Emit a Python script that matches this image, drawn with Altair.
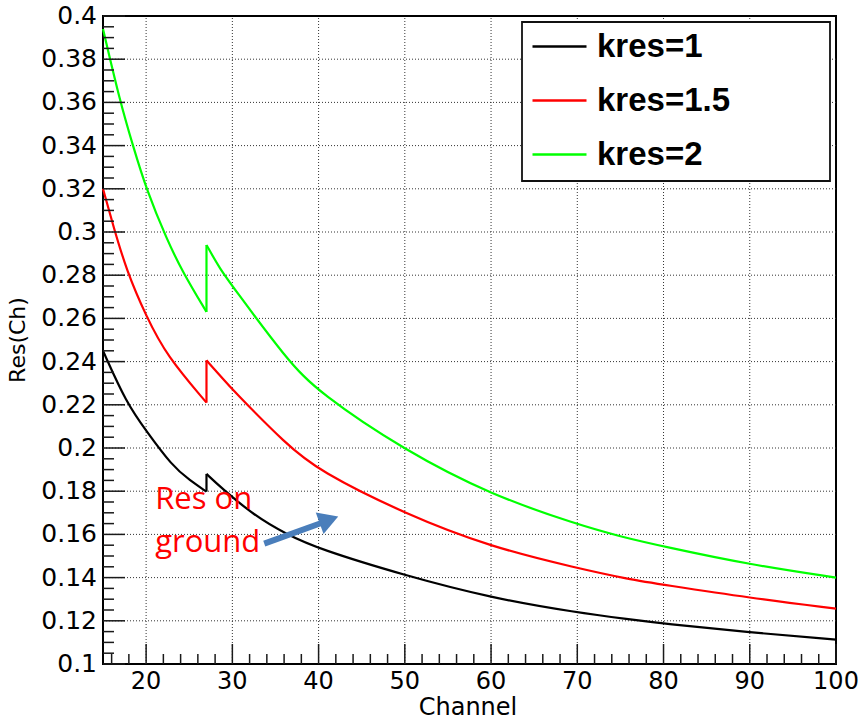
import altair as alt
import pandas as pd

# Resolution vs channel for three kres settings; each curve has a step at channel 27
series_names = ["kres=1", "kres=1.5", "kres=2"]
series_colors = ["#000000", "#ff0000", "#00ff00"]

k1_pre_ch = [15, 17.7, 20, 23, 25.1, 27]
k1_pre_res = [0.245, 0.221, 0.208, 0.1918, 0.1849, 0.1798]
k1_post_ch = [27, 28.6, 32.6, 36.3, 40, 50, 60, 70, 76, 80, 90, 100]
k1_post_res = [0.188, 0.182, 0.1685, 0.160, 0.1533, 0.141, 0.1306, 0.1238, 0.1207, 0.1187, 0.1146, 0.1113]

k15_pre_ch = [15, 16.2, 17.7, 20, 22.4, 27]
k15_pre_res = [0.320, 0.3027, 0.2825, 0.261, 0.2426, 0.221]
k15_post_ch = [27, 28.6, 30, 36.3, 40, 50, 60, 70, 76, 80, 90, 100]
k15_post_res = [0.2406, 0.2334, 0.227, 0.2015, 0.1895, 0.1695, 0.1541, 0.1444, 0.1392, 0.1367, 0.1306, 0.1256]

k2_pre_ch = [15, 17, 18.5, 20, 22.4, 24.3, 27]
k2_pre_res = [0.394, 0.360, 0.3396, 0.320, 0.2965, 0.281, 0.263]
k2_post_ch = [27, 28.6, 30, 36.3, 40, 50, 60, 70, 75, 80, 90, 100]
k2_post_res = [0.294, 0.2827, 0.275, 0.241, 0.2257, 0.1988, 0.1783, 0.1646, 0.159, 0.1544, 0.146, 0.140]

# Axis ranges, tick positions and titles (ticks point into the frame)
X_MIN, X_MAX = 15, 100
Y_MIN, Y_MAX = 0.1, 0.4
y_major = [round(0.10 + 0.02 * i, 3) for i in range(16)]
y_minor = [round(0.10 + 0.005 * i, 4) for i in range(61) if i % 4 != 0]
x_major = [20, 30, 40, 50, 60, 70, 80, 90, 100]
x_minor = [v for v in range(16, 101, 2) if v % 10 != 0]
x_title = "Channel"
y_title = "Res(Ch)"

# Annotation
note_lines = ["Res on", "ground"]
note_ch = [21.05, 21.05]
note_res = [0.1718, 0.1520]
arrow_ch = [33.7, 40.4]
arrow_res = [0.1557, 0.1654]
arrow_head_ch = [41.2]
arrow_head_res = [0.1667]

W, H = 733, 648
XS = alt.Scale(domain=[X_MIN, X_MAX], nice=False, zero=False)
YS = alt.Scale(domain=[Y_MIN, Y_MAX], nice=False, zero=False)
CH_PER_PX = (X_MAX - X_MIN) / W
RES_PER_PX = (Y_MAX - Y_MIN) / H
FONT = "DejaVu Sans"


def segments(name, pre_ch, pre_res, post_ch, post_res):
    rows = []
    for c, r in zip(pre_ch, pre_res):
        rows.append((name, "pre", c, r))
    rows.append((name, "jump", pre_ch[-1], pre_res[-1]))
    rows.append((name, "jump", post_ch[0], post_res[0]))
    for c, r in zip(post_ch, post_res):
        rows.append((name, "post", c, r))
    return rows


rows = (segments("kres=1", k1_pre_ch, k1_pre_res, k1_post_ch, k1_post_res)
        + segments("kres=1.5", k15_pre_ch, k15_pre_res, k15_post_ch, k15_post_res)
        + segments("kres=2", k2_pre_ch, k2_pre_res, k2_post_ch, k2_post_res))
df = pd.DataFrame(rows, columns=["series", "seg", "ch", "res"])
df["idx"] = range(len(df))

curves = alt.Chart(df).mark_line(strokeWidth=2.2, interpolate="basis").encode(
    x=alt.X("ch:Q", scale=XS, axis=None),
    y=alt.Y("res:Q", scale=YS, axis=None),
    color=alt.Color("series:N", scale=alt.Scale(domain=series_names, range=series_colors),
                    legend=alt.Legend(
                        orient="none", legendX=428, legendY=2, title=None,
                        symbolType="stroke", symbolSize=2916, symbolStrokeWidth=2.5,
                        labelFont="Liberation Sans", labelFontWeight="bold", labelFontSize=33,
                        labelColor="black", labelOffset=9, rowPadding=8, padding=0,
                        labelLimit=300)),
    detail="seg:N",
    order="idx:Q",
)

# Dotted grid at the major tick positions
grid_rows = []
for v in y_major[1:-1]:
    grid_rows.append({"gx": X_MIN, "gx2": X_MAX, "gy": v, "gy2": v})
for v in x_major[:-1]:
    grid_rows.append({"gx": v, "gx2": v, "gy": Y_MIN, "gy2": Y_MAX})
grid = alt.Chart(pd.DataFrame(grid_rows)).mark_rule(
    color="#333", strokeWidth=1, strokeDash=[1, 2]
).encode(x=alt.X("gx:Q", scale=XS, axis=None), y=alt.Y("gy:Q", scale=YS, axis=None),
         x2="gx2:Q", y2="gy2:Q")

# Inward tick segments: start on the frame edge, run a fixed pixel length into the plot
tick_rows = []
for v in y_major:
    tick_rows.append({"tx": X_MIN, "tx2": X_MIN + 22 * CH_PER_PX, "ty": v, "ty2": v})
for v in y_minor:
    tick_rows.append({"tx": X_MIN, "tx2": X_MIN + 11 * CH_PER_PX, "ty": v, "ty2": v})
for v in x_major:
    tick_rows.append({"tx": v, "tx2": v, "ty": Y_MIN, "ty2": Y_MIN + 20 * RES_PER_PX})
for v in x_minor:
    tick_rows.append({"tx": v, "tx2": v, "ty": Y_MIN, "ty2": Y_MIN + 10 * RES_PER_PX})
ticks = alt.Chart(pd.DataFrame(tick_rows)).mark_rule(
    color="#1a1a1a", strokeWidth=1.5, strokeDash=[100, 0], strokeCap="butt"
).encode(x=alt.X("tx:Q", scale=XS, axis=None), y=alt.Y("ty:Q", scale=YS, axis=None),
         x2="tx2:Q", y2="ty2:Q")

# Tick labels
ylab = alt.Chart(pd.DataFrame({"v": y_major, "x0": [X_MIN] * len(y_major)})).mark_text(
    align="right", baseline="middle", dx=-6, font=FONT, fontSize=25, color="black"
).encode(x=alt.X("x0:Q", scale=XS, axis=None), y=alt.Y("v:Q", scale=YS, axis=None),
         text=alt.Text("v:Q", format=".2~f"))
xlab = alt.Chart(pd.DataFrame({"v": x_major, "y0": [Y_MIN] * len(x_major)})).mark_text(
    align="center", baseline="top", dy=6, font=FONT, fontSize=24, color="black"
).encode(x=alt.X("v:Q", scale=XS, axis=None), y=alt.Y("y0:Q", scale=YS, axis=None),
         text=alt.Text("v:Q", format="d"))

# Axis titles
xtitle = alt.Chart(pd.DataFrame({"label": [x_title]})).mark_text(
    align="center", baseline="middle", font=FONT, fontSize=24, color="black"
).encode(x=alt.value(365), y=alt.value(H + 44), text="label:N")
ytitle = alt.Chart(pd.DataFrame({"label": [y_title]})).mark_text(
    align="center", baseline="middle", angle=270, font=FONT, fontSize=22, color="black"
).encode(x=alt.value(-85), y=alt.value(324), text="label:N")

note_df = pd.DataFrame({"text": note_lines, "ch": note_ch, "res": note_res})
note = alt.Chart(note_df).mark_text(
    align="left", baseline="alphabetic", font="Open Sans", fontSize=31, color="#ff0000"
).encode(x=alt.X("ch:Q", scale=XS, axis=None), y=alt.Y("res:Q", scale=YS, axis=None),
         text="text:N")

arrow_df = pd.DataFrame({"ch": [arrow_ch[0]], "res": [arrow_res[0]],
                         "ch2": [arrow_ch[1]], "res2": [arrow_res[1]]})
arrow_shaft = alt.Chart(arrow_df).mark_rule(color="#4a7ebb", strokeWidth=6).encode(
    x=alt.X("ch:Q", scale=XS, axis=None), y=alt.Y("res:Q", scale=YS, axis=None),
    x2="ch2:Q", y2="res2:Q")
head_df = pd.DataFrame({"ch": arrow_head_ch, "res": arrow_head_res})
arrow_head = alt.Chart(head_df).mark_point(
    shape="triangle-right", filled=True, size=520, color="#4a7ebb", opacity=1, angle=340
).encode(x=alt.X("ch:Q", scale=XS, axis=None), y=alt.Y("res:Q", scale=YS, axis=None))

box = alt.Chart(pd.DataFrame({"k": [0]})).mark_rect(
    fill="white", stroke="#111", strokeWidth=1.8
).encode(x=alt.value(419), x2=alt.value(727), y=alt.value(6), y2=alt.value(165))

chart = alt.layer(
    grid, curves, ylab, xlab, xtitle, ytitle, note, arrow_shaft, arrow_head, ticks, box
).properties(
    width=W, height=H,
    autosize=alt.AutoSizeParams(type="none"),
    padding={"left": 103, "top": 16, "right": 26, "bottom": 60},
    background="white",
).configure_view(stroke="black", strokeWidth=2)

chart.save("out.html", embed_options={"renderer": "svg", "actions": False})
